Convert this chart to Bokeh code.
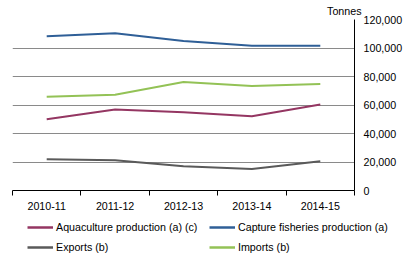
from bokeh.plotting import figure
from bokeh.layouts import column
from bokeh.models import (Range1d, FixedTicker, NumeralTickFormatter, Legend, LegendItem, LinearAxis)
from bokeh.embed import file_html
from bokeh.resources import INLINE

years = ["2010-11", "2011-12", "2012-13", "2013-14", "2014-15"]
aquaculture = [50000, 56900, 54900, 52100, 60300]
capture = [108300, 110400, 104900, 101500, 101500]
exports = [21900, 21300, 17100, 15100, 20600]
imports = [65800, 67200, 76100, 73400, 74700]
y_ticks = [0, 20000, 40000, 60000, 80000, 100000, 120000]

xs = [i + 0.5 for i in range(len(years))]
FONT = "Liberation Sans"

p = figure(width=407, height=218, output_backend="svg", toolbar_location=None,
           x_range=Range1d(0, len(years)), y_range=Range1d(0, 120000),
           x_axis_type=None, y_axis_location="right",
           min_border_left=12, min_border_right=53, min_border_top=15, min_border_bottom=28)
p.outline_line_color = None
p.background_fill_color = "white"
p.border_fill_color = "white"

p.title.text = "Tonnes"
p.title.align = "right"
p.title.offset = -7
p.title.standoff = 5
p.title.text_font = FONT
p.title.text_font_size = "10.7px"
p.title.text_font_style = "normal"
p.title.text_color = "black"

xaxis = LinearAxis(ticker=FixedTicker(ticks=xs, minor_ticks=list(range(len(years) + 1))),
                   major_label_overrides={x: y for x, y in zip(xs, years)})
xaxis.major_tick_line_color = None
xaxis.major_tick_out = 0
xaxis.major_tick_in = 0
xaxis.minor_tick_out = 5
xaxis.minor_tick_in = 0
xaxis.minor_tick_line_color = "black"
xaxis.axis_line_color = "black"
xaxis.major_label_standoff = 6
xaxis.major_label_text_font = FONT
xaxis.major_label_text_font_size = "10.7px"
xaxis.major_label_text_color = "black"
p.add_layout(xaxis, "below")

ya = p.yaxis[0]
ya.ticker = FixedTicker(ticks=y_ticks)
ya.formatter = NumeralTickFormatter(format="0,0")
ya.major_tick_line_color = None
ya.minor_tick_line_color = None
ya.major_tick_out = 0
ya.major_tick_in = 0
ya.axis_line_color = "black"
ya.major_label_standoff = 9
ya.major_label_text_font = FONT
ya.major_label_text_font_size = "10.7px"
ya.major_label_text_color = "black"

p.xgrid.grid_line_color = None
p.ygrid.grid_line_color = "#8a8a8a"
p.ygrid.grid_line_width = 1
p.ygrid.ticker = FixedTicker(ticks=y_ticks)

series = [
    ("Aquaculture production (a) (c)", aquaculture, "#943662"),
    ("Capture fisheries production (a)", capture, "#2f5f97"),
    ("Exports (b)", exports, "#5a5a5a"),
    ("Imports (b)", imports, "#93c256"),
]

# legend figure
q = figure(width=407, height=41, output_backend="svg", toolbar_location=None,
           x_range=Range1d(0, 1), y_range=Range1d(0, 1), x_axis_type=None, y_axis_type=None,
           min_border_left=0, min_border_right=0, min_border_top=0, min_border_bottom=0)
q.outline_line_color = None
q.xgrid.grid_line_color = None
q.ygrid.grid_line_color = None

unaligned = "frame_align" in q.properties()
if unaligned:
    p.frame_align = False
    q.frame_align = False
legend_x = 27 if unaligned else 15

legend_items = {}
for name, vals, col in series:
    p.line(xs, vals, line_color=col, line_width=2)
    r = q.line([5, 6], [5, 5], line_color=col, line_width=2.5)
    legend_items[name] = LegendItem(label=name, renderers=[r])

order = ["Aquaculture production (a) (c)", "Exports (b)",
         "Capture fisheries production (a)", "Imports (b)"]
lg = Legend(items=[legend_items[n] for n in order], ncols=2, location=(legend_x, 6),
            glyph_width=26, glyph_height=12, label_height=12, label_width=145,
            label_standoff=3, spacing=8, padding=0, margin=0, border_line_color=None,
            background_fill_alpha=0, label_text_font=FONT,
            label_text_font_size="10.7px", label_text_color="black")
q.add_layout(lg, "center")

open("out.html", "w").write(file_html(column(p, q, spacing=0), INLINE))
